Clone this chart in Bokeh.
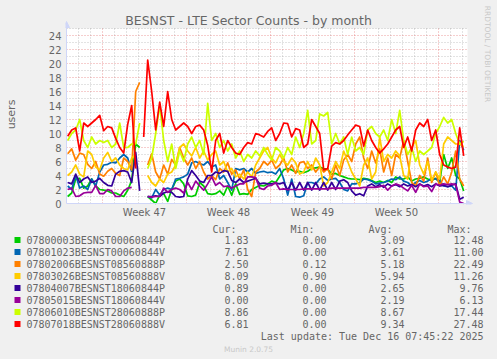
import math
from bokeh.plotting import figure
from bokeh.layouts import column, row
from bokeh.models import (Range1d, FixedTicker, Label, Arrow, NormalHead,
                          BoxAnnotation, Grid, GlobalInlineStyleSheet)
from bokeh.core.properties import value
from bokeh.embed import file_html
from bokeh.resources import INLINE

NAN = float("nan")

# time axis: days since the left edge of the graph window, 3 samples per day
days = [round(0.1 + k / 3.0, 3) for k in range(100)]
span_days = 401 / 12.0

week_lines = [3, 10, 17, 24, 31]
week_mids = [6.5, 13.5, 20.5, 27.5]
week_labels = ["Week 47", "Week 48", "Week 49", "Week 50"]
y_ticks = list(range(0, 25, 2))
y_top = 25

names = ["07800003BESNST00060844P", "07801023BESNST00060844V",
         "07802006BESNST08560888P", "07803026BESNST08560888V",
         "07804007BESNST18060844P", "07805015BESNST18060844V",
         "07806010BESNST28060888P", "07807018BESNST28060888V"]
colors = ["#00CC00", "#0066B3", "#FF8000", "#FFCC00",
          "#330099", "#990099", "#CCFF00", "#FF0000"]
cur_vals = ["1.83", "7.61", "2.50", "8.09", "0.89", "0.00", "8.86", "6.81"]
min_vals = ["0.00", "0.00", "0.12", "0.90", "0.00", "0.00", "0.00", "0.00"]
avg_vals = ["3.09", "3.61", "5.18", "5.94", "2.65", "2.19", "8.67", "9.34"]
max_vals = ["12.48", "11.00", "22.49", "11.26", "9.76", "6.13", "17.44", "27.48"]

green = [1.0, 1.5, 3.5, 3.6, 2.2, 2.5, 3.5, 2.5, 2.0, 1.9, 1.8, 1.5,
         1.5, 1.2, 1.0, 1.9, 3.3, 8.5, 8.0, NAN, 1.0, 0.5, 0.0, 1.2,
         1.4, 0.3, 2.0, 3.2, 3.5, 2.8, 1.1, 1.0, 1.2, 3.0, 2.5, 1.4,
         1.3, 1.4, 1.8, 1.2, 2.5, 1.2, 2.8, 1.3, 1.4, 1.3, 2.0, 2.3,
         2.6, 2.5, 2.8, 3.2, 3.0, 3.9, 4.8, 5.0, 4.8, 4.5, 4.6, 4.4,
         4.6, 5.0, 5.1, 5.2, 5.0, 4.9, 4.2, 4.3, 4.0, 3.8, 3.6, 3.5,
         3.5, 3.4, 3.6, 3.5, 3.3, 3.0, 3.2, 3.0, 3.3, 3.0, 3.8, 3.5,
         3.5, 3.8, 3.2, 3.5, 3.6, 3.8, 3.5, 3.3, 3.6, 3.0, 7.0, 5.0,
         6.5, 4.0, 3.5, 1.8]
blue = [2.5, 2.0, 4.0, 2.2, 2.5, 2.0, 3.5, 2.5, 4.5, 5.5, 5.6, 5.9,
        5.8, 6.5, 7.0, 6.5, 4.5, NAN, NAN, NAN, 1.0, 0.8, 2.0, 1.2,
        2.0, 2.2, 2.0, 3.5, 3.6, 3.8, 4.2, 5.8, 6.0, 5.7, 5.5, 6.0,
        5.2, 5.5, 3.5, 4.0, 3.0, 1.9, 5.0, 4.8, 5.0, 4.5, 5.0, 4.3,
        4.5, 4.6, 4.4, 4.5, 4.2, 5.0, 3.5, 1.2, 3.5, 1.0, 0.9, 1.1,
        3.0, 3.0, 2.8, 3.5, 3.8, 3.3, 3.5, 3.6, 3.0, 2.0, 1.8, 2.8,
        2.8, 3.0, 3.5, 3.4, 3.2, 2.8, 2.9, 3.0, 3.2, 3.5, 3.4, 3.8,
        3.2, 3.0, 2.5, 3.0, 3.3, 3.0, 3.2, 3.6, 3.5, 3.2, 2.5, 2.4,
        2.5, 1.9, 9.0, 7.6]
orange = [7.1, 7.8, 6.2, 7.2, 7.0, 5.6, 5.0, 6.0, 4.2, 3.9, 4.6, 5.0,
          4.3, 4.0, 6.5, 6.0, 4.8, 16.0, 17.3, NAN, 5.5, 7.1, 4.5, 3.5,
          5.5, 4.2, 6.3, 5.5, 8.0, 6.5, 5.5, 6.5, 5.0, 6.0, 4.5, 3.5,
          4.0, 3.4, 5.0, 4.5, 5.8, 4.2, 4.8, 3.5, 4.8, 2.0, 1.0, 4.5,
          5.0, 6.0, 5.5, 6.2, 5.0, 5.5, 6.5, 4.5, 5.5, 4.3, 5.8, 6.0,
          5.0, 5.5, 4.5, 5.3, 4.5, 5.0, 3.5, 5.5, 4.0, 6.2, 7.0, 6.0,
          8.5, 9.5, 6.5, 5.0, 7.5, 5.8, 7.8, 4.5, 6.5, 4.0, 7.0, 6.5,
          9.0, 6.0, 3.0, 2.5, 4.0, 3.2, 6.5, 3.0, 4.5, 2.5, 3.8, 2.8,
          4.5, 7.5, 3.5, 2.5]
yellow = [4.0, 4.5, 5.5, 4.2, 3.8, 7.5, 7.0, 5.2, 4.8, 6.5, 7.3, 6.0,
          6.5, 5.5, 5.0, 4.8, 6.5, 7.0, NAN, NAN, 4.0, 3.0, 2.5, 3.5,
          3.0, 4.2, 4.5, 5.5, 8.0, 8.5, 7.5, 6.8, 8.0, 6.5, 7.5, 6.2,
          7.0, 7.5, 5.5, 6.0, 4.5, 5.0, 3.8, 4.2, 3.5, 4.5, 3.8, 5.5,
          6.5, 7.5, 8.0, 6.5, 5.8, 7.0, 6.0, 5.5, 6.5, 5.8, 4.2, 4.5,
          6.0, 4.8, 6.5, 5.5, 2.5, 3.0, 4.5, 6.0, 5.0, 7.5, 6.0, 4.5,
          3.5, 2.5, 5.5, 6.5, 3.5, 4.5, 9.5, 6.0, 7.0, 6.5, 7.5, 6.8,
          4.0, 3.5, 8.0, 9.0, 5.5, 4.2, 6.0, 3.3, 4.5, 3.5, 8.5, 9.5,
          9.0, 8.5, 8.5, 8.1]
indigo = [3.0, 2.8, 4.2, 3.0, 3.5, 3.8, 3.0, 3.2, 3.6, 3.0, 2.6, 2.5,
          4.2, 4.6, 4.7, 4.5, 3.0, 7.3, 1.8, NAN, 1.0, 1.0, 1.1, 1.0,
          1.5, 1.7, 1.6, 1.0, 0.9, 1.0, 3.5, 4.7, 4.0, 3.2, 3.0, 4.0,
          4.0, 4.5, 4.3, 4.7, 4.6, 3.3, 3.0, 3.5, 3.0, 3.2, 3.4, 3.6,
          2.8, 2.9, 2.8, 2.8, 2.9, 2.8, 3.0, 1.9, 3.0, 1.9, 3.0, 1.9,
          3.0, 1.9, 3.0, 1.9, 3.0, 1.9, 3.0, 2.0, 3.2, 3.4, 3.0, 1.8,
          1.2, 1.4, 1.1, 2.5, 2.8, 2.4, 2.7, 2.3, 2.8, 2.5, 2.7, 2.4,
          2.8, 2.5, 2.7, 2.4, 2.8, 2.5, 2.7, 2.4, 2.8, 2.5, 2.6, 2.4,
          2.6, 2.8, 0.6, 0.9]
purple = [2.0, 2.2, 1.0, 1.1, 1.5, 1.6, 1.6, 2.6, 1.4, 1.4, 2.0, 1.8,
          1.0, 1.0, 1.8, 2.2, 2.3, NAN, NAN, NAN, 1.0, 0.9, 1.0, 1.0,
          2.2, 1.6, 2.0, 2.2, 2.0, 1.5, 3.0, 2.0, 3.2, 2.5, 1.9, 2.8,
          3.8, 2.6, 3.0, 2.4, 2.5, 2.2, 2.5, 2.8, 2.8, 3.8, 3.8, 3.7,
          2.2, 2.0, 2.5, 2.6, 3.0, 2.0, 2.1, 2.0, 2.0, 2.0, 2.0, 2.1,
          2.1, 2.1, 2.1, 2.1, 2.1, 2.1, 2.2, 2.2, 2.2, 2.2, 2.2, 2.2,
          2.2, 2.2, 2.3, 2.3, 2.3, 2.3, 2.4, 2.6, 1.9, 2.5, 2.8, 2.6,
          2.2, 1.8, 2.6, 1.6, 2.8, 2.4, 2.5, 1.7, 2.8, 2.6, 2.8, 2.7,
          2.8, 2.7, 0.2, 0.0]
lime = [9.0, 10.0, 10.5, 12.0, 9.0, 8.0, 9.5, 8.5, 9.0, 8.7, 9.0, 8.0,
        8.5, 11.5, 8.0, 8.0, 8.5, 8.5, 11.5, NAN, 5.0, 6.5, 10.0, 14.0,
        9.0, 6.0, 8.5, 5.0, 7.5, 6.0, 8.5, 9.5, 8.0, 9.0, 7.0, 14.3,
        9.0, 10.0, 8.0, 9.0, 7.5, 8.5, 6.5, 7.5, 6.0, 7.0, 6.5, 7.5,
        6.8, 8.0, 7.0, 6.2, 8.0, 7.5, 6.5, 8.0, 7.0, 9.5, 8.0, 10.0,
        13.3, 8.5, 9.0, 12.8, 12.5, 13.0, 8.5, 10.0, 8.5, 9.5, 7.0, 9.5,
        7.5, 8.0, 7.0, 10.5, 11.0, 10.0, 9.5, 10.5, 9.0, 12.0, 10.0, 13.3,
        9.0, 7.0, 8.0, 6.0, 7.5, 7.0, 7.5, 8.0, 10.0, 11.0, 12.3, 11.5,
        12.0, 10.0, 8.5, 8.9]
red = [9.6, 10.5, 10.8, 7.5, 11.5, 11.0, 11.5, 12.0, 12.6, 10.4, 11.0, 10.8,
       9.3, 8.0, 7.2, 11.3, 14.0, 5.0, NAN, 9.5, 20.5, 16.0, 10.5, 14.5,
       11.0, 16.0, 12.0, 10.5, 11.0, 11.5, 11.0, 10.0, 11.0, 11.2, 10.5, 8.3,
       4.5, 9.0, 10.0, 7.2, 9.0, 8.0, 7.2, 7.0, 8.0, 8.7, 8.5, 10.0,
       9.8, 9.5, 10.3, 10.8, 9.0, 10.0, 11.5, 11.4, 9.5, 10.7, 10.5, 8.0,
       8.5, 12.0, 11.0, 10.0, 4.8, 5.0, 8.2, 8.7, 8.5, 9.0, 9.8, 10.5,
       11.2, 11.0, 8.2, 10.5, 9.0, 8.0, 7.2, 7.8, 8.5, 9.5, 10.5, 11.0,
       8.0, 9.5, 7.5, 10.5, 11.5, 11.0, 12.0, 9.0, 10.5, 7.0, 5.5, 5.2,
       5.0, 5.2, 10.8, 6.8]

series = [green, blue, orange, yellow, indigo, purple, lime, red]

FONT = "#666666"
AXIS = "#CFD6F8"
BG = "#F0F0F0"
MGRID = "#DE4F4F"
GRID = "#8F8F8F"
US_W = 20          # width of the strip that carries the "users" label

y_rng = (-1 / 7.0, 29.0)


def sx(x):
    return (x - 66) / 12.0


def sy(y):
    return (203 - y) / 7.0


# ---------------------------------------------------------------- "users" strip
u = figure(width=US_W, height=222, output_backend="svg", toolbar_location=None,
           title=None, x_axis_type=None, y_axis_type=None,
           x_range=Range1d(0, US_W), y_range=Range1d(*y_rng),
           min_border_left=0, min_border_right=0, min_border_top=0, min_border_bottom=18,
           background_fill_color=BG, border_fill_color=BG, outline_line_color=None,
           stylesheets=[GlobalInlineStyleSheet(
               css="html,body{margin:0;padding:0;background:#F0F0F0;overflow:hidden;}")])
u.add_layout(Label(x=11, y=sy(114), text="users", text_font="DejaVu Sans",
                   text_font_size="11px", text_color=FONT, text_align="center",
                   text_baseline="middle", angle=math.pi / 2))

# ---------------------------------------------------------------- chart
p = figure(width=497 - US_W, height=222, output_backend="svg", toolbar_location=None,
           title=None,
           x_range=Range1d(-1 / 12.0, 431 / 12.0), y_range=Range1d(*y_rng),
           min_border_left=65 - US_W, min_border_right=0,
           min_border_top=0, min_border_bottom=18,
           background_fill_color=BG, border_fill_color=BG,
           outline_line_color=None)

# white canvas of the graph area
p.add_layout(BoxAnnotation(left=0, right=span_days, bottom=0, top=y_top,
                           fill_color="#FFFFFF", fill_alpha=1.0, line_color=None,
                           level="image"))

x_minor = [d for d in range(1, 34) if d not in week_lines]
y_major = list(range(2, y_top + 1, 2))
y_minor = list(range(1, y_top + 1, 2))

if "cross_bounds" in Grid.properties():
    p.xgrid.ticker = FixedTicker(ticks=week_lines, minor_ticks=x_minor)
    p.ygrid.ticker = FixedTicker(ticks=y_major, minor_ticks=y_minor)
    p.xgrid.cross_bounds = (0, y_top)
    p.ygrid.cross_bounds = (0, span_days)
    for g in (p.xgrid[0], p.ygrid[0]):
        g.grid_line_color = MGRID
        g.grid_line_alpha = 0.55
        g.grid_line_dash = "1 2"
        g.minor_grid_line_color = GRID
        g.minor_grid_line_alpha = 0.5
        g.minor_grid_line_dash = "1 2"
else:
    p.xgrid.visible = False
    p.ygrid.visible = False
    p.segment(x0=x_minor, y0=[0] * len(x_minor), x1=x_minor, y1=[y_top] * len(x_minor),
              line_color=GRID, line_alpha=0.5, line_dash="1 2")
    p.segment(x0=[0] * len(y_minor), y0=y_minor, x1=[span_days] * len(y_minor), y1=y_minor,
              line_color=GRID, line_alpha=0.5, line_dash="1 2")
    p.segment(x0=week_lines, y0=[0] * 5, x1=week_lines, y1=[y_top] * 5,
              line_color=MGRID, line_alpha=0.55, line_dash="1 2")
    p.segment(x0=[0] * len(y_major), y0=y_major, x1=[span_days] * len(y_major), y1=y_major,
              line_color=MGRID, line_alpha=0.55, line_dash="1 2")

# axes
p.yaxis.ticker = FixedTicker(ticks=y_ticks)
p.xaxis.ticker = FixedTicker(ticks=week_mids)
p.xaxis.major_label_overrides = {m: t for m, t in zip(week_mids, week_labels)}
for ax in (p.xaxis[0], p.yaxis[0]):
    ax.axis_line_color = None
    ax.major_tick_line_color = None
    ax.minor_tick_line_color = None
    ax.major_tick_in = 0
    ax.major_tick_out = 0
    ax.major_label_text_font = "DejaVu Sans"
    ax.major_label_text_font_size = "10px"
    ax.major_label_text_color = FONT
p.yaxis.major_label_standoff = 4
p.xaxis.major_label_standoff = 2

# series lines
for ys, col in zip(series, colors):
    p.line(days, ys, line_color=col, line_width=1.7, line_join="round")

AX_HEAD = dict(fill_color=AXIS, line_color=AXIS, size=6)
p.add_layout(Arrow(end=NormalHead(**AX_HEAD), x_start=0, y_start=0,
                   x_end=sx(472), y_end=0, line_color=AXIS, line_width=1))
p.add_layout(Arrow(end=NormalHead(**AX_HEAD), x_start=0, y_start=0,
                   x_end=0, y_end=sy(21), line_color=AXIS, line_width=1))

p.add_layout(Label(x=sx(248), y=sy(19.5), text="BESNST - LTE Sector Counts - by month",
                   text_font="DejaVu Sans", text_font_size="12.5px", text_color=FONT,
                   text_align="center", text_baseline="middle"))
p.add_layout(Label(x=sx(487), y=sy(53.5), text="RRDTOOL / TOBI OETIKER",
                   text_font="DejaVu Sans", text_font_size="7.5px", text_color="#C8C8C8",
                   text_align="center", text_baseline="middle", angle=-math.pi / 2))

# ---------------------------------------------------------------- legend
q = figure(width=497, height=137, output_backend="svg", toolbar_location=None,
           title=None, x_axis_type=None, y_axis_type=None,
           x_range=Range1d(0, 497), y_range=Range1d(359, 222),
           min_border_left=0, min_border_right=0, min_border_top=0, min_border_bottom=0,
           background_fill_color=BG, border_fill_color=BG, outline_line_color=None)

MONO = value("DejaVu Sans Mono")
row_y = [239.5 + 12 * i for i in range(len(names))]

q.quad(left=[14] * len(names), right=[20] * len(names),
       top=[y - 3 for y in row_y], bottom=[y + 3 for y in row_y],
       fill_color=colors, line_color=None)

q.text(x=[212, 290, 368, 447], y=[228.5] * 4, text=["Cur:", "Min:", "Avg:", "Max:"],
       text_font=MONO, text_font_size="10px", text_color=FONT,
       text_align="left", text_baseline="middle")
q.text(x=[26] * len(names), y=row_y, text=names,
       text_font=MONO, text_font_size="10px", text_color=FONT,
       text_align="left", text_baseline="middle")
for colx, vals in zip([248, 326, 404, 483], [cur_vals, min_vals, avg_vals, max_vals]):
    q.text(x=[colx] * len(vals), y=row_y, text=vals,
           text_font=MONO, text_font_size="10px", text_color=FONT,
           text_align="right", text_baseline="middle")
q.text(x=[483], y=[336], text=["Last update: Tue Dec 16 07:45:22 2025"],
       text_font=MONO, text_font_size="10px", text_color=FONT,
       text_align="right", text_baseline="middle")
q.text(x=[248], y=[348.5], text=["Munin 2.0.75"],
       text_font=value("DejaVu Sans"), text_font_size="7.5px", text_color="#C8C8C8",
       text_align="center", text_baseline="middle")

layout = column(row(u, p, spacing=0), q, spacing=0)
open("out.html", "w").write(file_html(layout, INLINE))
